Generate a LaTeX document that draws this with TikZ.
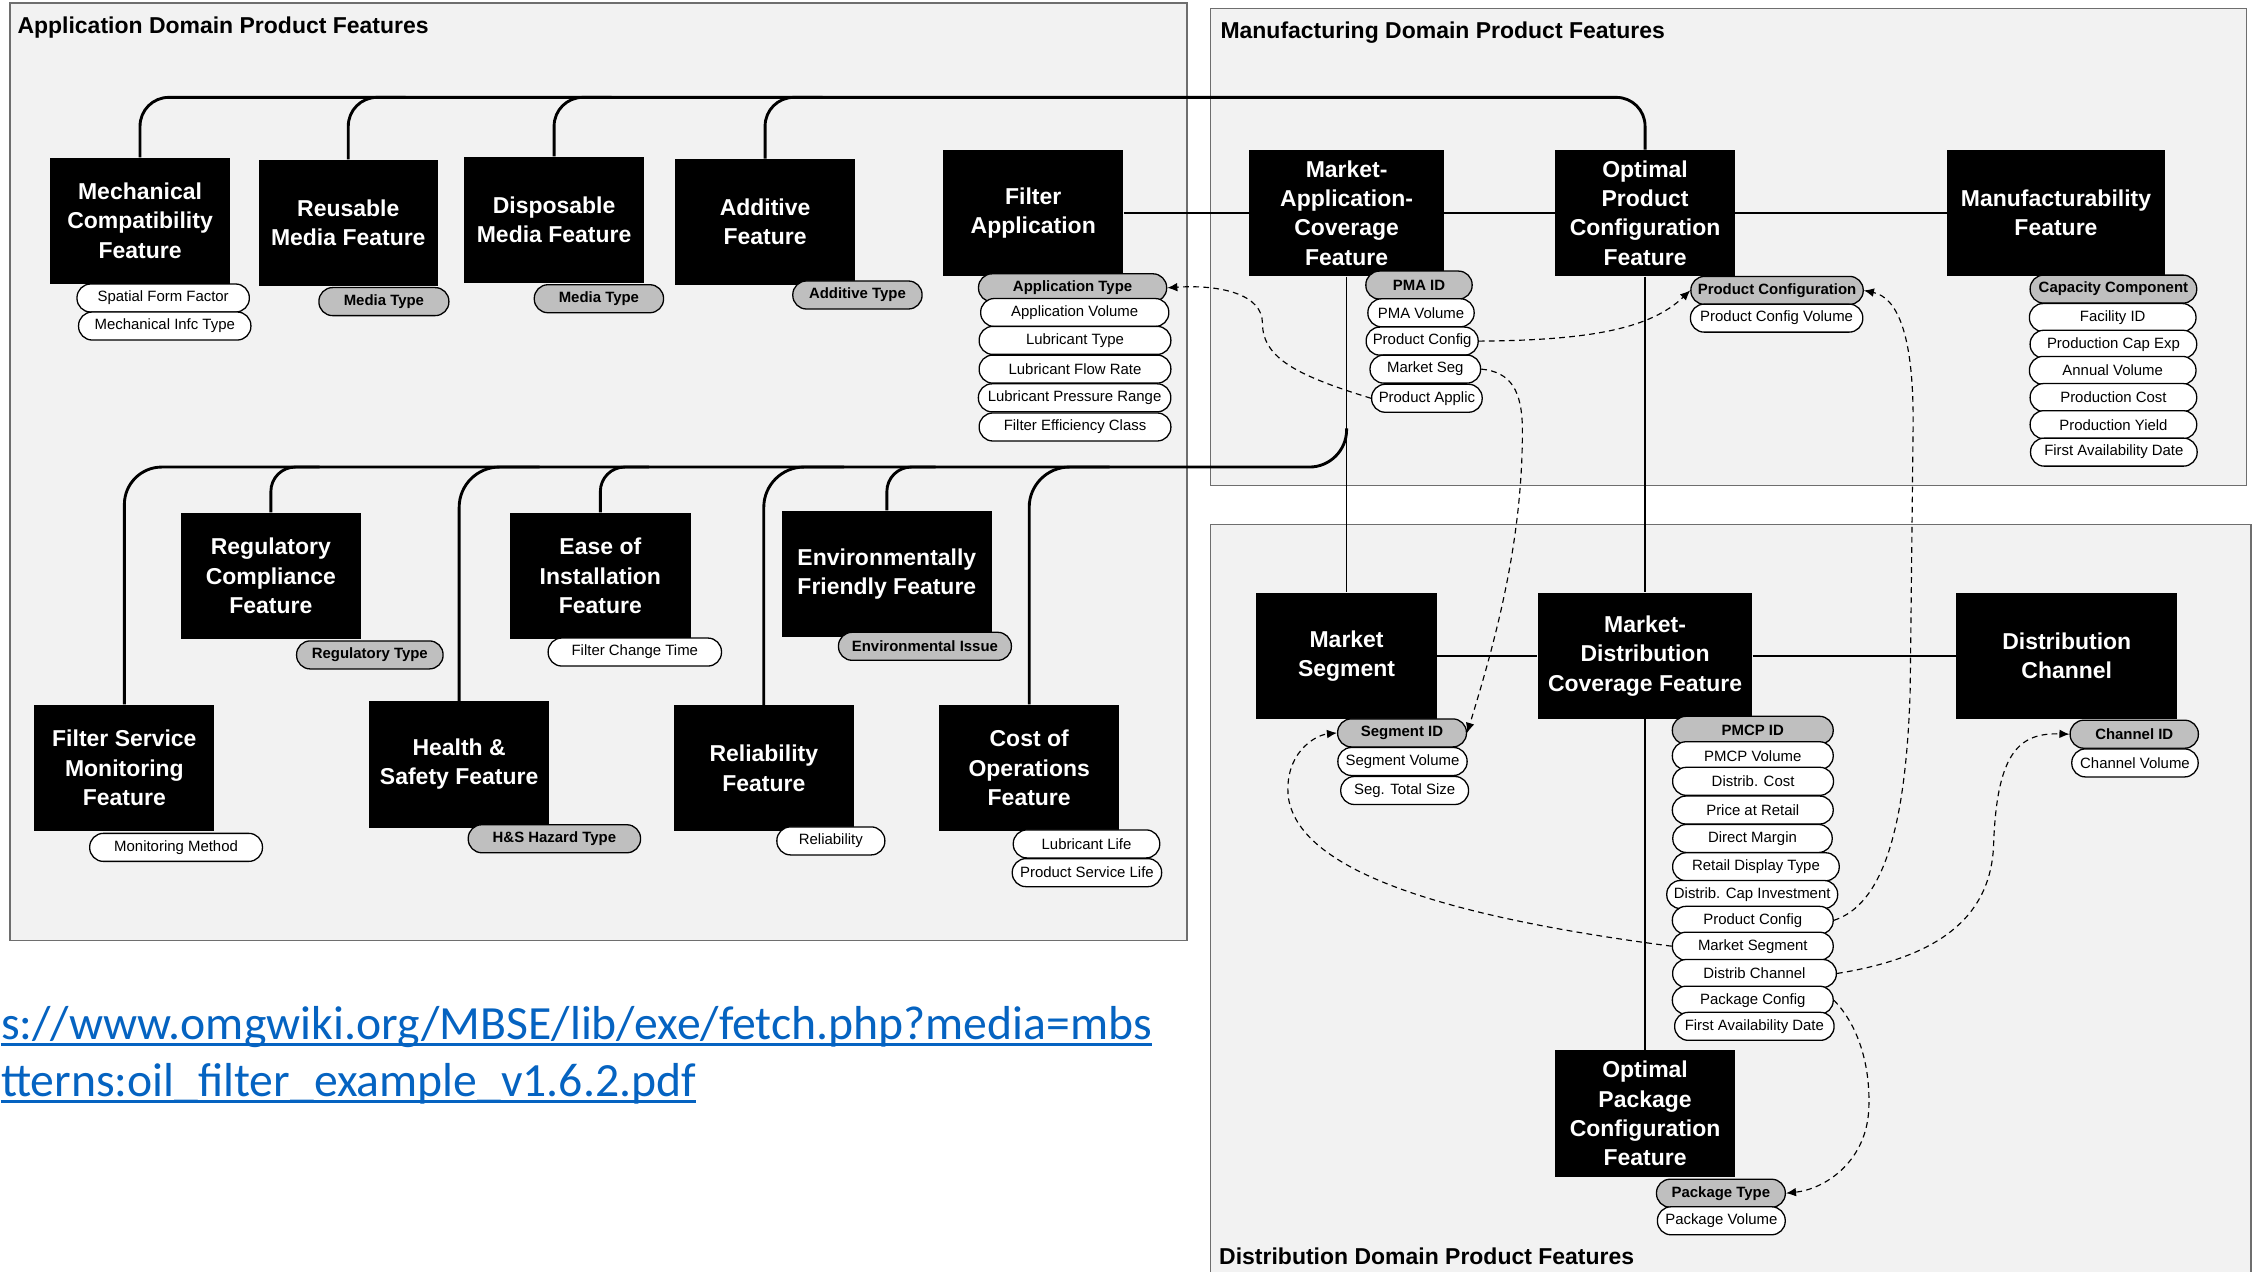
\documentclass[tikz,border=0pt]{standalone}
\usepackage{fontspec}
\setmainfont{Liberation Sans}
\newfontfamily\urlfont{Carlito}
\usetikzlibrary{calc,arrows.meta}
\definecolor{panelfill}{HTML}{F2F2F2}
\definecolor{panelline}{HTML}{6E6E6E}
\definecolor{pillgray}{HTML}{BFBFBF}
\definecolor{linkblue}{HTML}{0563C1}
\pgfdeclarelayer{panels}
\pgfdeclarelayer{lines}
\pgfsetlayers{panels,lines,main}
\begin{document}
\begin{tikzpicture}[x=1pt,y=-1pt,
  panel/.style={draw=panelline, fill=panelfill, line width=1pt},
  ptitle/.style={anchor=west, inner sep=0pt, font=\bfseries\fontsize{16}{19}\selectfont},
  box/.style={fill=black, text=white, align=center, inner sep=0pt, minimum height=88pt,
    font=\bfseries\fontsize{16}{20.4}\selectfont},
  pill/.style={draw=black, line width=0.9pt, fill=white, rounded corners=9.5pt,
    minimum height=19.5pt, inner sep=0pt, font=\fontsize{10.4}{12}\selectfont},
  gpill/.style={pill, fill=pillgray, font=\bfseries\fontsize{10.4}{12}\selectfont},
  bus/.style={line width=2pt},
  conn/.style={line width=1.2pt},
  dlink/.style={line width=0.8pt, dash pattern=on 4pt off 3pt, -{Latex[length=7pt,width=6pt]}},
  urltext/.style={anchor=base west, inner sep=0pt, text=linkblue, font=\urlfont\fontsize{33.2}{40}\selectfont},
  uline/.style={draw=linkblue, line width=2pt}
]
\useasboundingbox (0,0) rectangle (1568,885);

% ---------- panels ----------
\begin{pgfonlayer}{panels}
\draw[panel] (7,2) rectangle (826.6,655);
\draw[panel] (843,6) rectangle (1564,338);
\draw[panel] (843,365) rectangle (1567.3,895);
\end{pgfonlayer}
\node[ptitle] (tapp) at (12,19) {Application Domain Product Features};
\node[ptitle] (tman) at (849.6,22.5) {Manufacturing Domain Product Features};
\node[ptitle] (tdis) at (848.7,874.4) {Distribution Domain Product Features};

% ---------- feature boxes ----------
\node[box, minimum width=125.4pt] (mech) at (97.5,153.7) {Mechanical\\Compatibility\\Feature};
\node[box, minimum width=125pt] (reu) at (242.5,155.2) {Reusable\\Media Feature};
\node[box, minimum width=125.6pt] (dis) at (385.8,153) {Disposable\\Media Feature};
\node[box, minimum width=125.5pt] (add) at (532.7,154.6) {Additive\\Feature};
\node[box, minimum width=125.3pt] (fapp) at (719.4,148.4) {Filter\\Application};
\node[box, minimum width=135.4pt] (mac) at (937.6,148.4) {Market-\\Application-\\Coverage\\Feature};
\node[box, minimum width=125.2pt] (opc) at (1145.4,148.4) {Optimal\\Product\\Configuration\\Feature};
\node[box, minimum width=152pt] (manu) at (1431.5,148.4) {Manufacturability\\Feature};
\node[box, minimum width=125.3pt] (reg) at (188.6,401) {Regulatory\\Compliance\\Feature};
\node[box, minimum width=126pt] (eas) at (418,401) {Ease of\\Installation\\Feature};
\node[box, minimum width=146pt] (env) at (617.5,399.5) {Environmentally\\Friendly Feature};
\node[box, minimum width=125.3pt] (fsm) at (86.6,534.7) {Filter Service\\Monitoring\\Feature};
\node[box, minimum width=125.2pt] (hs) at (319.7,532.2) {Health \&\\Safety Feature};
\node[box, minimum width=125pt] (rel) at (531.8,534.9) {Reliability\\Feature};
\node[box, minimum width=125.6pt] (cost) at (716.6,534.7) {Cost of\\Operations\\Feature};
\node[box, minimum width=125.7pt] (mseg) at (937.6,456.7) {Market\\Segment};
\node[box, minimum width=149.5pt] (mdc) at (1145.4,456.7) {Market-\\Distribution\\Coverage Feature};
\node[box, minimum width=153.8pt] (dch) at (1439,456.7) {Distribution\\Channel};
\node[box, minimum width=125.2pt] (opkg) at (1145.4,775.3) {Optimal\\Package\\Configuration\\Feature};

% ---------- solid connectors ----------
\coordinate (topbus) at (0,67.8);
\coordinate (botbus) at (0,325.2);
\begin{pgfonlayer}{lines}
\draw[bus, rounded corners=20pt] (mech.north) -- (mech.north |- topbus) -- (opc.north |- topbus) -- (opc.north);
\foreach \n in {reu,dis,add}
  \draw[bus, rounded corners=20pt] ($(\n.north |- topbus)+(40,0)$) -- (\n.north |- topbus) -- (\n.north);
\draw[bus, rounded corners=26pt] (fsm.north) -- (fsm.north |- botbus) -- (mac.south |- botbus) -- ($(mac.south |- botbus)+(0,-27)$);
\foreach \n in {reg,eas,env}
  \draw[bus, rounded corners=17pt] ($(\n.north |- botbus)+(34,0)$) -- (\n.north |- botbus) -- (\n.north);
\foreach \n in {hs,rel,cost}
  \draw[bus, rounded corners=28pt] ($(\n.north |- botbus)+(56,0)$) -- (\n.north |- botbus) -- (\n.north);
\draw[conn] (fapp.east) -- (mac.west);
\draw[conn] (mac.east) -- (opc.west);
\draw[conn] (opc.east) -- (manu.west);
\draw[conn] (mac.south) -- (mseg.north);
\draw[conn] (opc.south) -- (mdc.north);
\draw[conn] (mdc.south) -- (opkg.north);
\draw[conn] (mseg.east) -- (mdc.west);
\draw[conn] (mdc.east) -- (dch.west);
\end{pgfonlayer}

% ---------- attribute pills ----------
\node[pill, minimum width=120pt] (sff) at (113.6,207.5) {Spatial Form Factor};
\node[pill, minimum width=120pt] (mit) at (114.7,227) {Mechanical Infc Type};
\node[gpill, minimum width=90.5pt] (rmt) at (267.3,210) {Media Type};
\node[gpill, minimum width=90pt] (dmt) at (417,208) {Media Type};
\node[gpill, minimum width=90pt] (adt) at (597,205.4) {Additive Type};

\node[gpill, minimum width=131pt] (at) at (746.8,200.4) {Application Type};
\node[pill, minimum width=131pt] (av) at (748.3,217.6) {Application Volume};
\node[pill, minimum width=133.5pt] (lt) at (748.5,237) {Lubricant Type};
\node[pill, minimum width=133.5pt] (lfr) at (748.5,257) {Lubricant Flow Rate};
\node[pill, minimum width=134pt] (lpr) at (748.2,277) {Lubricant Pressure Range};
\node[pill, minimum width=133.5pt] (fec) at (748.5,297.3) {Filter Efficiency Class};

\node[gpill, minimum width=74pt] (pid) at (988,198.5) {PMA ID};
\node[pill, minimum width=74pt] (pvol) at (989.4,217.8) {PMA Volume};
\node[pill, minimum width=78pt] (ppc) at (990.2,237.5) {Product Config};
\node[pill, minimum width=77pt] (pms) at (992.4,257) {Market Seg};
\node[pill, minimum width=77pt] (ppa) at (993.5,277.3) {Product Applic};

\node[gpill, minimum width=120pt] (pconf) at (1237.3,202.2) {Product Configuration};
\node[pill, minimum width=120pt] (pcv) at (1237,221.5) {Product Config Volume};

\node[gpill, minimum width=116pt] (cc) at (1471.5,201.3) {Capacity Component};
\node[pill, minimum width=116pt] (fid) at (1471,221.1) {Facility ID};
\node[pill, minimum width=116pt] (pce) at (1471.5,239.7) {Production Cap Exp};
\node[pill, minimum width=116pt] (avol) at (1471,257.9) {Annual Volume};
\node[pill, minimum width=116pt] (pco) at (1471.5,276.8) {Production Cost};
\node[pill, minimum width=116pt] (pyl) at (1471.5,295.7) {Production Yield};
\node[pill, minimum width=116pt] (fad) at (1471.8,314.8) {First Availability Date};

\node[gpill, minimum width=102pt] (rt) at (257.5,456) {Regulatory Type};
\node[pill, minimum width=120.7pt] (fct) at (442,454) {Filter Change Time};
\node[gpill, minimum width=120.4pt] (ei) at (644,450) {Environmental Issue};
\node[pill, minimum width=120.3pt] (mm) at (122.6,590) {Monitoring Method};
\node[gpill, minimum width=120pt] (hst) at (386,584) {H\&S Hazard Type};
\node[pill, minimum width=75.2pt] (relp) at (578.5,585.5) {Reliability};
\node[pill, minimum width=102pt] (ll) at (756.5,587.6) {Lubricant Life};
\node[pill, minimum width=104pt] (psl) at (756.8,607.6) {Product Service Life};

\node[gpill, minimum width=89.7pt] (sid) at (976.2,510.3) {Segment ID};
\node[pill, minimum width=90pt] (svol) at (976.5,530.2) {Segment Volume};
\node[pill, minimum width=89pt] (sts) at (978,550.4) {Seg. Total Size};

\node[gpill, minimum width=112pt] (pmcp) at (1220.4,508.5) {PMCP ID};
\node[pill, minimum width=112pt] (pmv) at (1220.4,526.2) {PMCP Volume};
\node[pill, minimum width=112pt] (dcost) at (1220.6,544) {Distrib. Cost};
\node[pill, minimum width=112pt] (par) at (1220.4,564) {Price at Retail};
\node[pill, minimum width=111pt] (dmar) at (1220.2,583.8) {Direct Margin};
\node[pill, minimum width=116pt] (rdt) at (1222.6,603.5) {Retail Display Type};
\node[pill, minimum width=119pt] (dci) at (1220,622.8) {Distrib. Cap Investment};
\node[pill, minimum width=112pt] (mpc) at (1220.4,640.8) {Product Config};
\node[pill, minimum width=112pt] (mms) at (1220.4,658.8) {Market Segment};
\node[pill, minimum width=114pt] (mdch) at (1221.6,677.8) {Distrib Channel};
\node[pill, minimum width=112pt] (mpkc) at (1220.4,696.4) {Package Config};
\node[pill, minimum width=111pt] (mfad) at (1221.5,714.6) {First Availability Date};

\node[gpill, minimum width=89.3pt] (chid) at (1486,511.2) {Channel ID};
\node[pill, minimum width=88pt] (chv) at (1486.5,531.2) {Channel Volume};

\node[gpill, minimum width=89.7pt] (pkt) at (1198.2,830.8) {Package Type};
\node[pill, minimum width=89pt] (pkv) at (1198.5,850) {Package Volume};

% ---------- dashed references ----------
\draw[dlink] (ppa.west) .. controls (905,262) and (879,250) .. (879,225) .. controls (879,205) and (850,198) .. (at.east);
\draw[dlink] (ppc.east) .. controls (1110,237) and (1150,228) .. (pconf.west);
\draw[dlink] (pms.east) .. controls (1052,259) and (1060,272) .. (1060,300) .. controls (1060,380) and (1040,450) .. (sid.east);
\draw[dlink] (mpc.east) .. controls (1310,630) and (1327,580) .. (1330,480) -- (1332,300) .. controls (1333,230) and (1320,207) .. (pconf.east);
\draw[dlink] (mms.west) .. controls (1020,640) and (905,610) .. (897,555) .. controls (894,525) and (915,512) .. (sid.west);
\draw[dlink] (mdch.east) .. controls (1340,668) and (1385,645) .. (1388,590) .. controls (1390,525) and (1405,510) .. (chid.west);
\draw[dlink] (mpkc.east) .. controls (1295,715) and (1303,745) .. (1301,775) .. controls (1298,810) and (1270,828) .. (pkt.east);

% ---------- source link ----------
\node[urltext] (url1) at (0.5,724) {s://www.omgwiki.org/MBSE/lib/exe/fetch.php?media=mbs};
\node[urltext] (url2) at (0.5,763.5) {tterns:oil\_filter\_example\_v1.6.2.pdf};
\draw[uline] ($(url1.base west)+(0,3.5)$) -- ($(url1.base east)+(0,3.5)$);
\draw[uline] ($(url2.base west)+(0,3.5)$) -- ($(url2.base east)+(0,3.5)$);
\end{tikzpicture}
\end{document}
